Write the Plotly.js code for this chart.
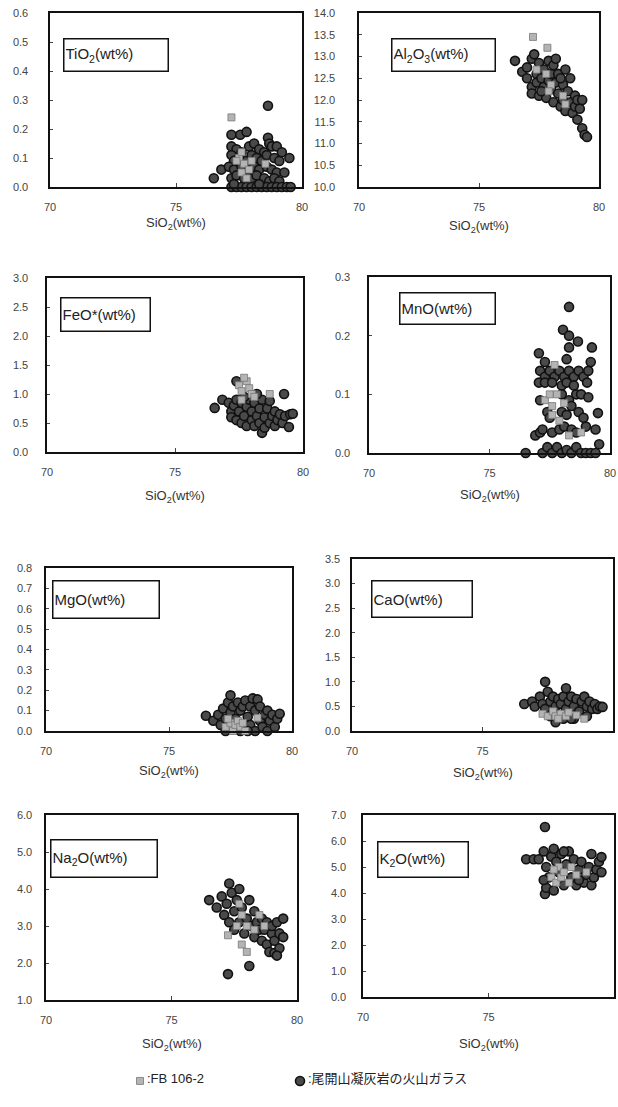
<!DOCTYPE html>
<html>
<head>
<meta charset="utf-8">
<script src="https://cdn.plot.ly/plotly-3.0.1.min.js"></script>
<style>html,body{margin:0;padding:0;background:#fff}#chart{width:618px;height:1107px}</style>
</head>
<body>
<div id="chart"></div>
<script>
// ---------------- DATA ----------------
const xTickVals = [70, 75, 80];

// TiO2
const tio2GlassX = [76.5,76.8,77.2,77.55,77.8,78.65,78.65,78.7,77.2,77.4,77.6,77.9,78.1,78.3,78.5,78.8,79.0,79.2,79.5,77.2,77.3,77.5,77.8,78.0,78.2,78.4,78.6,78.9,79.1,77.1,77.3,77.6,77.9,78.1,78.3,78.6,78.8,79.0,79.3,77.2,77.4,77.7,78.0,78.2,78.5,78.7,78.9,79.1,77.2,77.4,77.6,77.8,78.0,78.2,78.4,78.6,78.8,79.0,79.2,79.4,79.55,77.3,78.3];
const tio2GlassY = [0.03,0.06,0.18,0.18,0.19,0.28,0.17,0.15,0.14,0.13,0.12,0.14,0.15,0.13,0.12,0.14,0.14,0.12,0.10,0.11,0.09,0.10,0.09,0.11,0.10,0.09,0.11,0.10,0.09,0.07,0.06,0.07,0.06,0.07,0.06,0.07,0.06,0.05,0.05,0.03,0.04,0.03,0.03,0.04,0.03,0.02,0.03,0.02,0.00,0.00,0.00,0.00,0.00,0.00,0.00,0.00,0.00,0.00,0.00,0.00,0.00,0.01,0.01];
const tio2FbX = [77.2,77.5,77.6,77.7,77.6,77.8,77.9,78.55,77.4,78.0];
const tio2FbY = [0.24,0.10,0.12,0.08,0.05,0.03,0.06,0.08,0.09,0.09];

// Al2O3
const al2o3GlassX = [76.5,76.8,77.0,77.0,77.2,77.2,77.3,77.2,77.4,77.4,77.5,77.5,77.6,77.7,77.7,77.8,77.9,77.9,78.0,78.0,78.1,78.1,78.2,78.3,78.3,78.4,78.5,78.5,78.6,78.6,78.7,78.8,78.8,78.9,79.0,79.0,79.1,79.1,79.2,79.3,79.3,79.4,79.5,78.2,77.6,78.4];
const al2o3GlassY = [12.9,12.65,12.5,12.75,12.3,12.95,13.05,12.15,12.6,12.4,12.85,12.1,12.5,12.3,12.7,12.05,12.9,12.45,12.25,12.6,12.8,11.95,12.4,12.15,12.6,11.85,12.35,12.0,12.7,11.75,12.2,11.95,12.5,11.7,12.1,11.85,12.0,11.55,11.8,11.35,12.0,11.2,11.15,12.95,12.2,12.5];
const al2o3FbX = [77.25,77.85,77.4,77.8,78.0,77.9,78.5,78.6];
const al2o3FbY = [13.45,13.2,12.7,12.6,12.35,12.2,12.1,11.9];

// FeO*
const feoGlassX = [76.55,76.85,77.1,77.2,77.2,77.3,77.4,77.4,77.4,77.5,77.6,77.6,77.7,77.8,77.8,77.9,78.0,78.0,78.1,78.1,78.2,78.3,78.3,78.4,78.4,78.5,78.5,78.6,78.7,78.7,78.8,78.9,78.9,79.0,79.1,79.2,79.26,79.3,79.45,79.5,79.6,78.2,77.7];
const feoGlassY = [0.76,0.9,0.85,0.7,0.6,0.8,0.55,0.9,1.22,0.7,0.5,0.85,0.62,0.45,0.78,0.9,0.55,0.7,0.85,0.45,0.62,0.75,0.5,0.33,0.9,0.6,0.42,0.75,0.5,0.88,0.62,0.45,0.7,0.55,0.65,0.5,1.0,0.62,0.43,0.65,0.66,1.0,0.95];
const feoFbX = [77.5,77.6,77.8,77.9,78.0,77.7,78.1,78.7,77.6];
const feoFbY = [1.15,1.05,1.22,1.1,1.0,1.28,0.95,1.0,0.9];

// MnO
const mnoGlassX = [76.5,76.9,77.1,77.2,77.4,77.6,77.8,78.0,78.2,78.4,78.6,78.8,79.0,79.2,79.4,77.05,77.3,77.1,77.3,77.5,77.7,77.9,78.1,78.3,78.5,78.7,78.9,79.1,77.05,77.3,77.6,78.0,78.2,78.5,79.05,77.1,78.0,78.3,78.6,78.8,79.1,77.4,77.5,78.0,78.2,78.4,78.7,78.9,79.5,77.2,77.6,77.9,78.1,78.4,78.6,79.0,79.4,79.55,78.3,78.05,78.67,78.3,78.2,79.25,79.2,78.3];
const mnoGlassY = [0.0,0.03,0.035,0.0,0.01,0.0,0.01,0.0,0.005,0.0,0.01,0.0,0.0,0.0,0.0,0.17,0.155,0.14,0.13,0.14,0.13,0.14,0.13,0.14,0.13,0.14,0.13,0.14,0.12,0.12,0.12,0.115,0.12,0.115,0.12,0.09,0.1,0.09,0.1,0.1,0.095,0.07,0.06,0.07,0.065,0.08,0.07,0.06,0.068,0.04,0.035,0.04,0.045,0.04,0.035,0.045,0.04,0.015,0.249,0.21,0.19,0.18,0.16,0.18,0.155,0.2];
const mnoFbX = [77.3,77.5,77.6,77.8,77.9,78.1,77.7,78.8,78.3,77.6];
const mnoFbY = [0.09,0.1,0.08,0.1,0.055,0.085,0.15,0.035,0.03,0.065];

// MgO
const mgoGlassX = [76.5,76.8,77.0,77.1,77.2,77.3,77.3,77.4,77.5,77.5,77.6,77.7,77.8,77.9,78.0,78.0,78.1,78.2,78.3,78.3,78.4,78.5,78.5,78.6,78.7,78.7,78.8,78.9,79.0,79.0,79.1,79.2,79.3,79.4,79.5,77.9,78.2];
const mgoGlassY = [0.075,0.05,0.08,0.03,0.11,0.06,0.0,0.14,0.175,0.09,0.12,0.06,0.14,0.1,0.12,0.02,0.15,0.07,0.12,0.03,0.16,0.1,0.0,0.155,0.05,0.12,0.02,0.08,0.1,0.0,0.05,0.08,0.02,0.06,0.085,0.0,0.0];
const mgoFbX = [77.3,77.5,77.6,77.7,77.8,77.9,78.0,78.1,78.6,77.4];
const mgoFbY = [0.02,0.04,0.0,0.03,0.05,0.02,0.04,0.0,0.065,0.06];

// CaO
const caoGlassX = [76.6,76.9,77.0,77.2,77.3,77.4,77.4,77.5,77.6,77.7,77.8,77.9,78.0,78.1,78.2,78.2,78.3,78.4,78.5,78.5,78.6,78.7,78.8,78.9,79.0,79.0,79.1,79.2,79.3,79.4,79.5,79.6,77.8,78.1,77.6,78.4];
const caoGlassY = [0.55,0.6,0.5,0.7,0.55,1.0,0.45,0.8,0.6,0.7,0.5,0.65,0.55,0.7,0.87,0.45,0.6,0.7,0.5,0.25,0.65,0.4,0.6,0.7,0.5,0.3,0.6,0.45,0.55,0.45,0.5,0.49,0.18,0.25,0.3,0.25];
const caoFbX = [77.3,77.5,77.7,77.8,78.0,78.2,78.3,78.6,78.9,77.9];
const caoFbY = [0.35,0.3,0.4,0.3,0.35,0.3,0.38,0.32,0.25,0.25];

// Na2O
const na2oGlassX = [76.5,76.8,77.0,77.1,77.2,77.3,77.3,77.4,77.5,77.5,77.6,77.7,77.7,77.8,77.9,78.0,78.1,78.2,78.3,78.3,78.4,78.5,78.6,78.6,78.7,78.8,78.8,78.9,79.0,79.0,79.1,79.1,79.2,79.3,79.3,79.45,79.45,79.2,77.25,78.1];
const na2oGlassY = [3.7,3.5,3.8,3.3,3.6,4.15,3.1,3.9,3.4,2.9,3.7,4.0,3.1,3.5,2.8,3.2,3.7,3.0,3.4,2.7,3.1,2.9,3.2,2.6,2.9,3.1,2.5,2.3,2.8,3.0,2.27,2.6,3.1,2.4,2.8,3.2,2.7,2.2,1.7,1.92];
const na2oFbX = [77.25,77.8,78.0,77.8,77.7,78.0,78.3,78.7,78.5,77.6];
const na2oFbY = [2.75,2.5,2.3,3.3,3.6,3.0,2.9,3.0,3.3,3.0];

// K2O
const k2oGlassX = [76.5,76.8,77.0,77.2,77.25,77.25,77.3,77.3,77.4,77.5,77.6,77.7,77.8,77.9,78.0,78.1,78.2,78.3,78.4,78.5,78.6,78.7,78.8,78.9,79.0,79.1,79.1,79.2,79.3,79.4,79.5,79.5,77.6,78.0,78.6,77.2];
const k2oGlassY = [5.3,5.3,5.3,5.6,6.54,3.96,4.2,5.0,4.6,5.4,4.1,5.2,4.8,5.5,4.3,5.1,5.6,4.6,5.3,4.3,4.9,5.2,4.4,4.7,5.0,4.3,5.5,4.6,4.9,5.2,5.38,4.8,5.7,5.6,4.5,4.5];
const k2oFbX = [77.5,77.7,77.8,77.9,78.0,78.2,78.3,78.5,78.9,77.6];
const k2oFbY = [4.6,4.4,5.0,4.6,4.8,4.4,5.0,4.7,4.8,4.9];

const legendFb = ":FB 106-2";
const legendGlass = ":尾開山凝灰岩の火山ガラス";
const xTitle = "SiO<sub>2</sub>(wt%)";

// ---------------- LAYOUT ----------------
const W = 618, H = 1107;
const panels = [
  {label:"TiO<sub>2</sub>(wt%)", gx:tio2GlassX, gy:tio2GlassY, fx:tio2FbX, fy:tio2FbY, yr:[0,0.6], dt:0.1, box:[50,302,13,187], lab:[63,174,38,71], ty:223, so:18},
  {label:"Al<sub>2</sub>O<sub>3</sub>(wt%)", gx:al2o3GlassX, gy:al2o3GlassY, fx:al2o3FbX, fy:al2o3FbY, yr:[10,14], dt:0.5, box:[359,599,13,187], lab:[391,501,38,71], ty:226, so:20},
  {label:"FeO*(wt%)", gx:feoGlassX, gy:feoGlassY, fx:feoFbX, fy:feoFbY, yr:[0,3], dt:0.5, box:[47,303,278,452], lab:[60,156,297,331], ty:497, so:15},
  {label:"MnO(wt%)", gx:mnoGlassX, gy:mnoGlassY, fx:mnoFbX, fy:mnoFbY, yr:[0,0.3], dt:0.1, box:[369,610,277,453], lab:[399,501,292,324], ty:496, so:15},
  {label:"MgO(wt%)", gx:mgoGlassX, gy:mgoGlassY, fx:mgoFbX, fy:mgoFbY, yr:[0,0.8], dt:0.1, box:[46,292,568,731], lab:[52,165,580,618], ty:771, so:10},
  {label:"CaO(wt%)", gx:caoGlassX, gy:caoGlassY, fx:caoFbX, fy:caoFbY, yr:[0,3.5], dt:0.5, box:[352,613,559,731], lab:[371,478,580,617], ty:773, so:8},
  {label:"Na<sub>2</sub>O(wt%)", gx:na2oGlassX, gy:na2oGlassY, fx:na2oFbX, fy:na2oFbY, yr:[1,6], dt:1, box:[46,297,815,1000], lab:[50,163,839,877], ty:1044, so:10},
  {label:"K<sub>2</sub>O(wt%)", gx:k2oGlassX, gy:k2oGlassY, fx:k2oFbX, fy:k2oFbY, yr:[0,7], dt:1, box:[363,614,815,997], lab:[377,474,841,877], ty:1044, so:13}
];

const FONT = "Liberation Sans, Arial, sans-serif";
const LEGFONT = "Liberation Sans, Noto Sans CJK JP, sans-serif";
const traces = [];
const layout = {
  width: W, height: H,
  margin: {l:0, r:0, t:0, b:0},
  paper_bgcolor: "#fff", plot_bgcolor: "#fff",
  showlegend: true,
  legend: {
    orientation: "h", x: 120/W, xanchor: "left", y: 1 - 1066/H, yanchor: "top",
    font: {family: LEGFONT, size: 13, color: "#222"},
    itemwidth: 30, entrywidth: 115, entrywidthmode: "pixels", bgcolor: "rgba(0,0,0,0)"
  },
  annotations: [
    {xref:"paper", yref:"paper", x:145/W, y:1-1078/H, xanchor:"left", yanchor:"middle", showarrow:false,
     text:legendFb, font:{family:LEGFONT, size:13, color:"#222"}},
    {xref:"paper", yref:"paper", x:306/W, y:1-1078/H, xanchor:"left", yanchor:"middle", showarrow:false,
     text:legendGlass, font:{family:LEGFONT, size:13, color:"#222"}}
  ],
  font: {family: FONT}
};

panels.forEach((p, i) => {
  const n = i + 1;
  const xa = "x" + (n === 1 ? "" : n), ya = "y" + (n === 1 ? "" : n);
  const xk = "xaxis" + (n === 1 ? "" : n), yk = "yaxis" + (n === 1 ? "" : n);
  traces.push({
    type: "scatter", mode: "markers", x: p.gx, y: p.gy, xaxis: xa, yaxis: ya,
    name: " ", showlegend: i === 0, legendrank: 2, cliponaxis: false,
    marker: {symbol: "circle", size: 9, color: "#4a4a4a", line: {color: "#111", width: 1.6}}
  });
  traces.push({
    type: "scatter", mode: "markers", x: p.fx, y: p.fy, xaxis: xa, yaxis: ya,
    name: " ", showlegend: i === 0, legendrank: 1, cliponaxis: false,
    marker: {symbol: "square", size: 7, color: "#b4b4b4", line: {color: "#777", width: 0.8}}
  });
  const [l, r, t, b] = p.box;
  layout[xk] = {
    domain: [l / W, r / W], range: [70, 80], tickvals: xTickVals, ticks: "inside", ticklen: 4,
    showgrid: false, zeroline: false, showline: true, linecolor: "#111", linewidth: 1.6, mirror: true,
    tickfont: {family: FONT, size: 11, color: "#444"}, ticklabelstandoff: 9, anchor: ya, fixedrange: true
  };
  layout[yk] = {
    domain: [1 - b / H, 1 - t / H], range: p.yr, dtick: p.dt, tick0: p.yr[0], tickformat: ".1f",
    ticks: "inside", ticklen: 3, showgrid: false, zeroline: false, showline: true,
    linecolor: "#111", linewidth: 1.6, mirror: true, ticklabelstandoff: p.so,
    tickfont: {family: FONT, size: 11, color: "#444"}, anchor: xa, fixedrange: true
  };
  const [al, ar, at, ab] = p.lab;
  layout.annotations.push({
    xref: "paper", yref: "paper", x: al / W, y: 1 - at / H, xanchor: "left", yanchor: "top",
    text: p.label, showarrow: false, align: "left", valign: "middle",
    width: ar - al - 10, height: ab - at - 4, borderpad: 1,
    bordercolor: "#111", borderwidth: 1.5, bgcolor: "#fff",
    font: {family: FONT, size: 15, color: "#222"}
  });
  layout.annotations.push({
    xref: "paper", yref: "paper", x: (l + r) / 2 / W, y: 1 - p.ty / H, xanchor: "center", yanchor: "middle",
    text: xTitle, showarrow: false, font: {family: FONT, size: 13, color: "#333"}
  });
});

Plotly.newPlot("chart", traces, layout, {staticPlot: true});
</script>
</body>
</html>
